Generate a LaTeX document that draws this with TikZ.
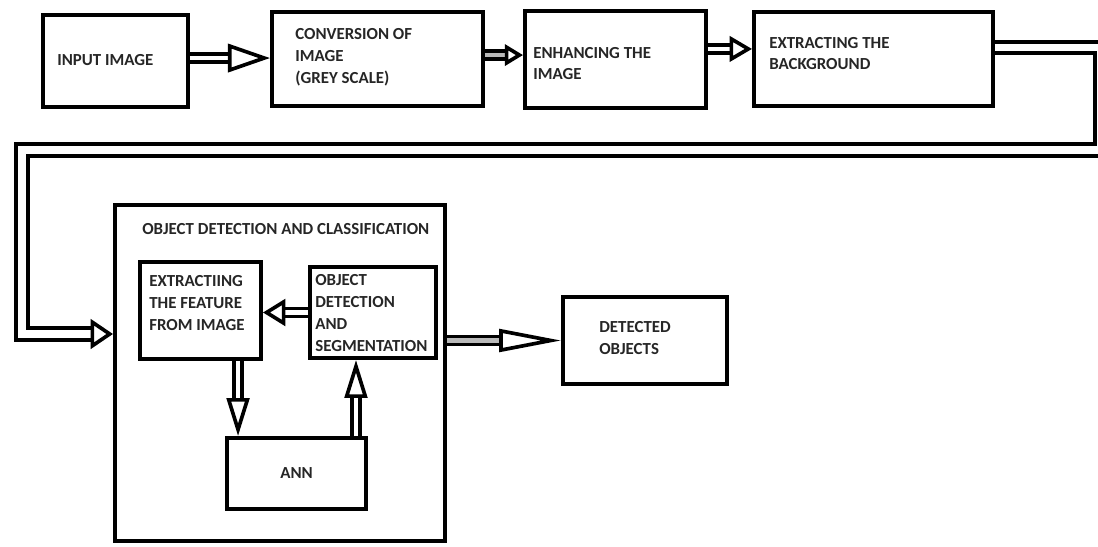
\documentclass[tikz,border=0pt]{standalone}
\usepackage{fontspec}
\setmainfont{Carlito}
\usetikzlibrary{arrows.meta,fit}

\tikzset{
  box/.style={draw, line width=2.8pt, inner sep=0pt, rectangle},
  lbl/.style={font=\bfseries\fontsize{12}{15.5}\selectfont, text=black!85,
    inner sep=0pt, align=left, anchor=west},
  dbl/.style={draw, line width=2.6pt, double=white, double distance=3pt},
  bigdbl/.style={dbl, line width=3pt, double distance=5pt},
  arrhead/.style 2 args={-{Triangle[open, fill=white, line width=2.6pt,
    length=#1, width=#2]}},
}

\begin{document}
\begin{tikzpicture}[x=0.025cm, y=-0.025cm]
\useasboundingbox (0,0) rectangle (1098,546);

% Top row of boxes
\node (input) [box, fit={(43,15) (188,107)}] {};
\node (inputtext) [lbl] at (57,60) {INPUT IMAGE};

\node (conv) [box, fit={(272,12) (483,106)}] {};
\node (convtext) [lbl] at (295,57) {CONVERSION OF\\IMAGE\\(GREY SCALE)};

\node (enh) [box, fit={(525,11) (706,108)}] {};
\node (enhtext) [lbl] at (533,63.5) {ENHANCING THE\\IMAGE};

\node (ext) [box, fit={(754,12) (993,106)}] {};
\node (exttext) [lbl] at (769,53.5) {EXTRACTING THE\\BACKGROUND};

% Object detection and classification block
\node (cls) [box, fit={(115,205) (445,541)}] {};
\node (clstext) [lbl] at (142,229) {OBJECT DETECTION AND CLASSIFICATION};

\node (feat) [box, fit={(140,262) (261,359)}] {};
\node (feattext) [lbl] at (149,303) {EXTRACTIING\\THE FEATURE\\FROM IMAGE};

\node (objdet) [box, fit={(310,267) (436,358)}] {};
\node (objdettext) [lbl] at (315,313) {OBJECT\\DETECTION\\AND\\SEGMENTATION};

\node (ann) [box, fit={(227,438) (366,509)}] {};
\node (anntext) [lbl, anchor=center] at (ann.center) {ANN};

% Result box
\node (detected) [box, fit={(563,297) (727,384)}] {};
\node (detectedtext) [lbl] at (599,338) {DETECTED\\OBJECTS};

% Corners of the long connector
\coordinate (edge) at (1101,150);
\coordinate (lbend) at (22,334);

% Drawing connectors
\draw [dbl, arrhead={30pt}{20pt}] ([yshift=2.1pt]input.east) -- ([yshift=2.1pt]input.east -| conv.west);
\draw [dbl, double=gray!55, arrhead={13pt}{15pt}] ([yshift=2.8pt]conv.east) -- ([yshift=2.8pt]conv.east -| enh.west);
\draw [dbl, arrhead={16pt}{18pt}] ([yshift=7.5pt]enh.east) -- ([yshift=7.5pt]enh.east -| ext.west);
\draw [bigdbl, arrhead={16pt}{21pt}] ([yshift=8.2pt]ext.east) -| (edge) -| (lbend) -- (lbend -| cls.west);
\draw [dbl, arrhead={16pt}{19pt}] (objdet.west) -- (objdet.west -| feat.east);
\draw [dbl, arrhead={27pt}{16pt}] ([xshift=26.7pt]feat.south) -- ([xshift=26.7pt]feat.south |- ann.north);
\draw [dbl, arrhead={27pt}{16pt}] ([xshift=42.3pt]ann.north) -- ([xshift=42.3pt]ann.north |- objdet.south);
\draw [dbl, double=gray!55, arrhead={44pt}{16pt}] (cls.east |- detected.west) -- (detected.west);
\end{tikzpicture}
\end{document}
